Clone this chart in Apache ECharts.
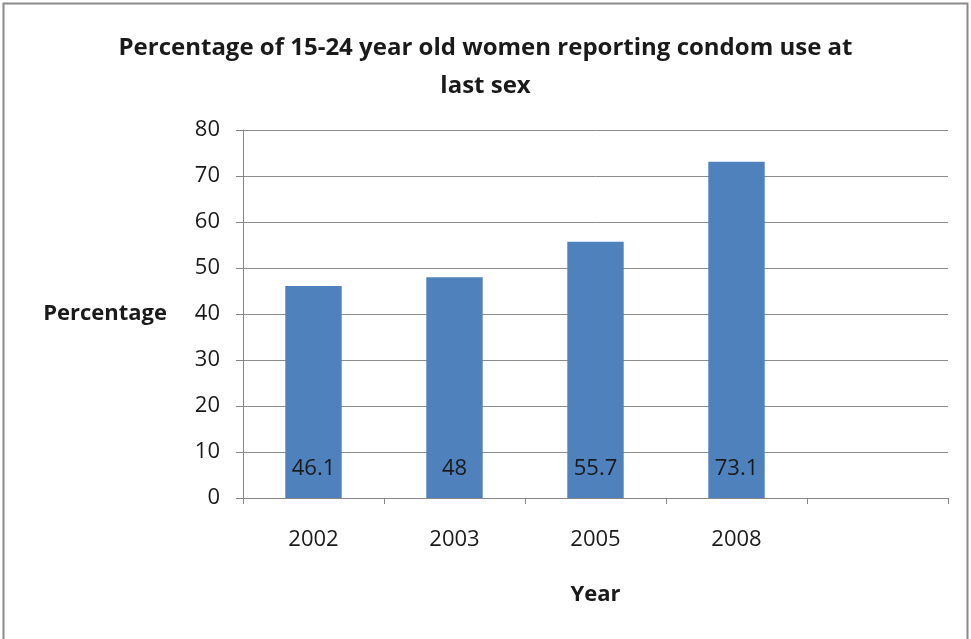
<!DOCTYPE html>
<html>
<head>
<meta charset="utf-8">
<script src="https://cdn.jsdelivr.net/npm/echarts@6/dist/echarts.min.js"></script>
<style>
  html, body { margin: 0; padding: 0; background: #fff; }
  #chart { width: 971px; height: 639px; }
</style>
</head>
<body>
<div id="chart"></div>
<script>
// data
const years = ['2002', '2003', '2005', '2008', '']
const percentages = [46.1, 48, 55.7, 73.1, null]
const yTicks = { min: 0, max: 80, interval: 10 }

const chart = echarts.init(document.getElementById('chart'))

const fontFamily = '"Open Sans", "Noto Sans", sans-serif'

const option = {
  animation: false,
  textStyle: { fontFamily },
  graphic: [
    {
      type: 'rect',
      shape: { x: 3.5, y: 3.5, width: 964, height: 650 },
      style: { fill: 'none', stroke: '#8a8a8a', lineWidth: 2 },
      silent: true,
    },
  ],
  title: {
    text: 'Percentage of 15-24 year old women reporting condom use at\nlast sex',
    left: 'center',
    top: 24,
    textStyle: {
      fontFamily,
      fontSize: 24,
      fontWeight: 'bold',
      color: '#1a1a1a',
      lineHeight: 38,
    },
  },
  grid: {
    left: 243,
    right: 23,
    top: 130,
    bottom: 141,
  },
  xAxis: {
    type: 'category',
    data: years,
    boundaryGap: true,
    name: 'Year',
    nameLocation: 'middle',
    nameGap: 86,
    nameTextStyle: { fontSize: 22, fontWeight: 'bold', color: '#1a1a1a' },
    axisLine: { lineStyle: { color: '#868686', width: 1 } },
    axisTick: { show: true, length: 6, lineStyle: { color: '#868686' } },
    axisLabel: { margin: 31, fontSize: 22, color: '#1a1a1a' },
  },
  yAxis: {
    type: 'value',
    min: yTicks.min,
    max: yTicks.max,
    interval: yTicks.interval,
    name: 'Percentage',
    nameLocation: 'middle',
    nameRotate: 0,
    nameGap: 76,
    nameTextStyle: { fontSize: 22, fontWeight: 'bold', color: '#1a1a1a', align: 'right', padding: [4, 0, 0, 0] },
    axisLine: { show: true, lineStyle: { color: '#868686', width: 1 } },
    axisTick: { show: true, length: 7, lineStyle: { color: '#868686' } },
    axisLabel: { margin: 23, fontSize: 22, color: '#1a1a1a' },
    splitLine: { lineStyle: { color: '#8c8c8c', width: 1 } },
  },
  series: [
    {
      type: 'bar',
      data: percentages,
      barWidth: '40%',
      itemStyle: { color: '#4f81bd' },
      label: {
        show: true,
        position: 'insideBottom',
        distance: 18,
        fontSize: 22,
        color: '#1a1a1a',
      },
    },
  ],
}

chart.setOption(option)
</script>
</body>
</html>
